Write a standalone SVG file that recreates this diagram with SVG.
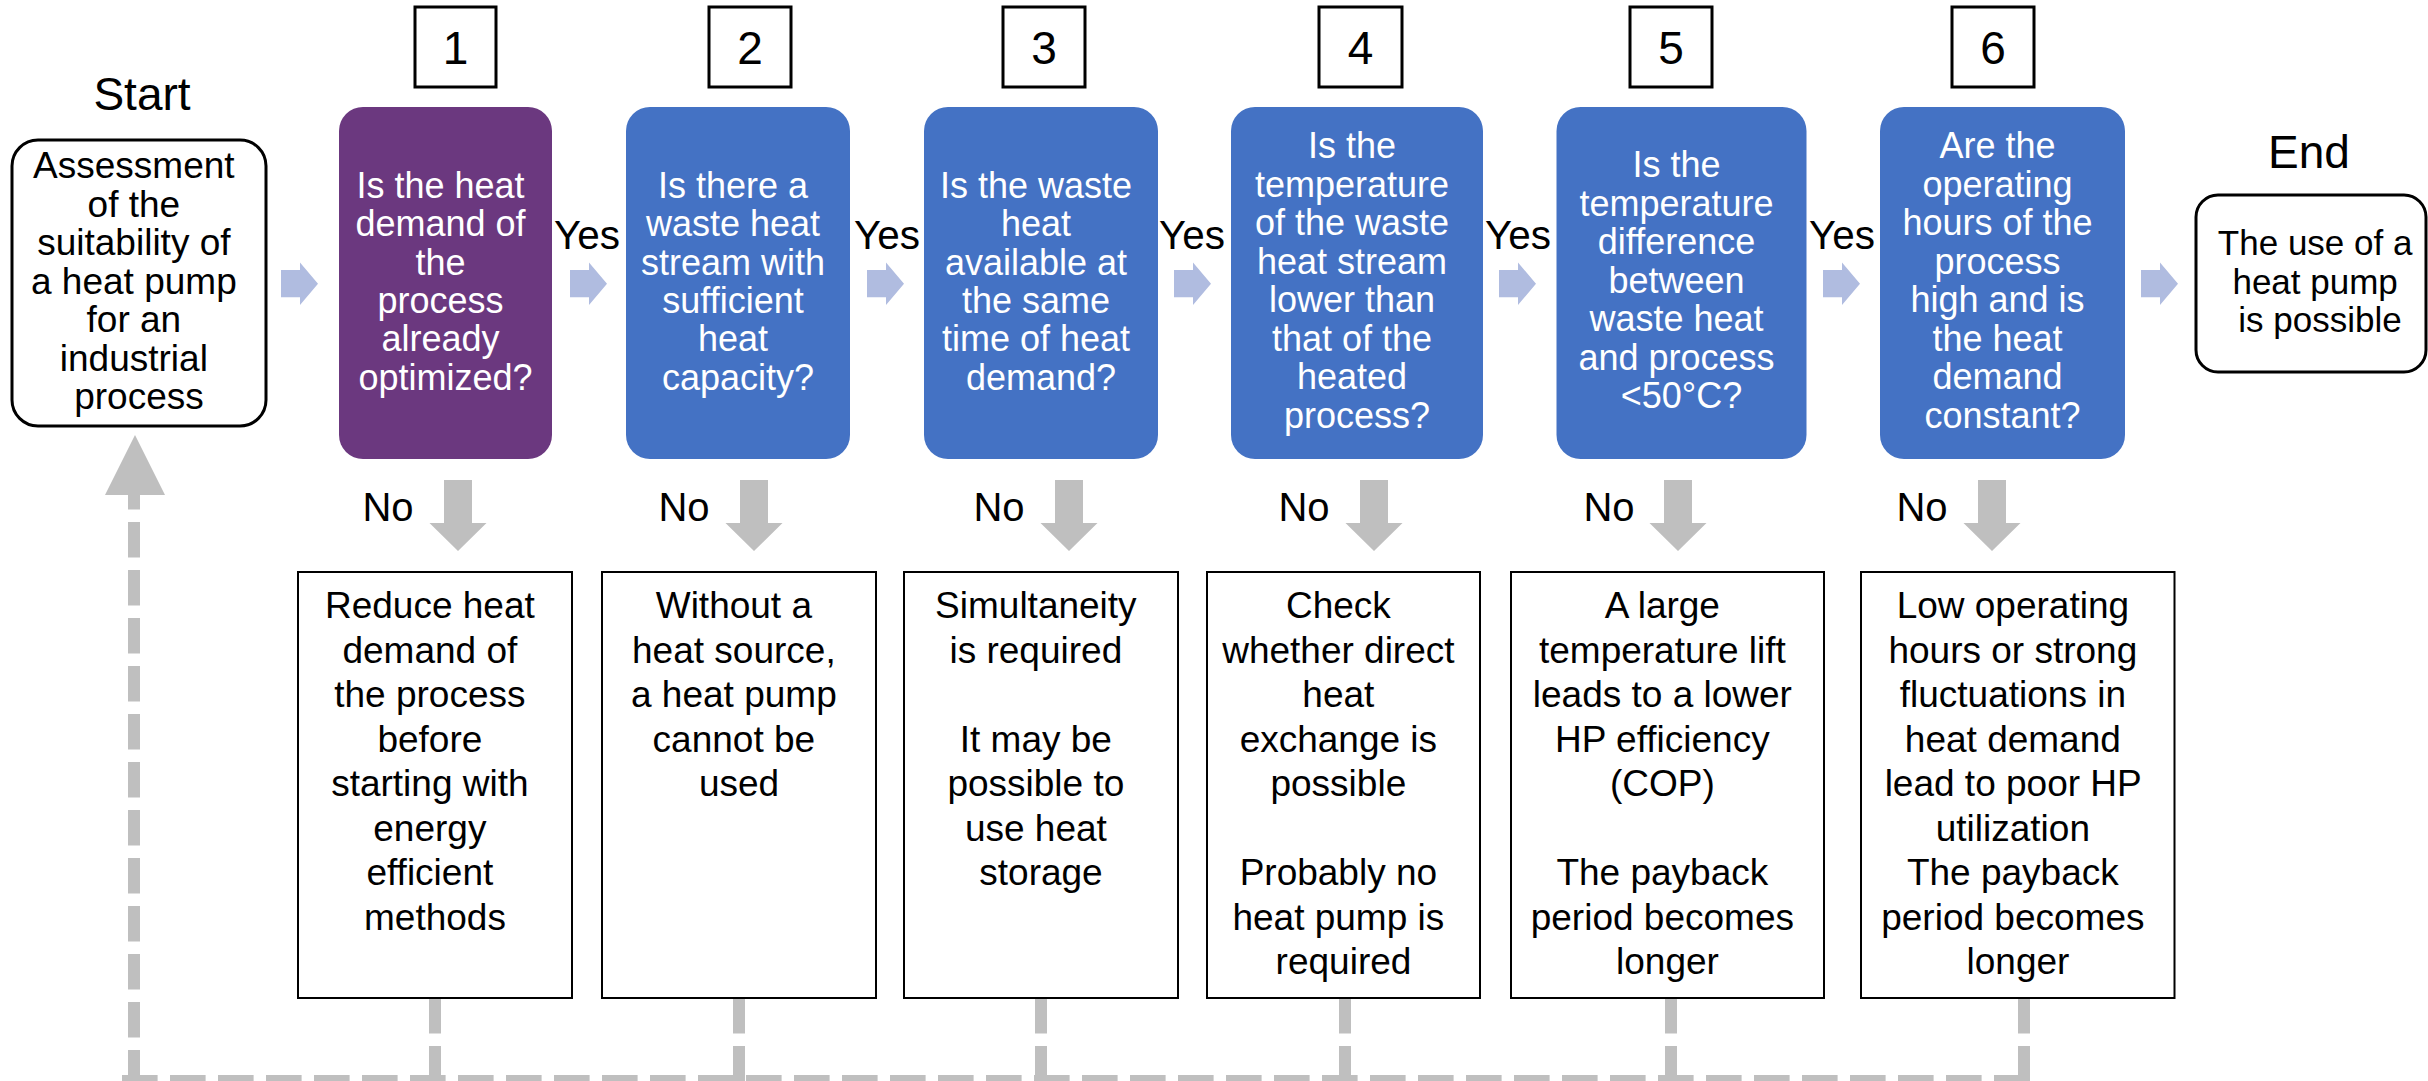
<svg xmlns="http://www.w3.org/2000/svg" xmlns:xlink="http://www.w3.org/1999/xlink" width="2428" height="1081" viewBox="0 0 2428 1081">
  <style>
    text { font-family: "Liberation Sans", Arial, sans-serif; text-anchor: middle; }
    .hdr { font-size: 46px; fill: #000; }
    .num { font-size: 46px; fill: #000; }
    .q { font-size: 36px; fill: #fff; }
    .term { font-size: 37px; fill: #000; }
    .out { font-size: 37px; fill: #000; }
    .yes { font-size: 40px; fill: #000; }
    .no { font-size: 40px; fill: #000; }
    .numbox { fill: #fff; stroke: #000; stroke-width: 3; }
    .termbox { fill: #fff; stroke: #000; stroke-width: 3; }
    .outbox { fill: #fff; stroke: #000; stroke-width: 2; }
    .blue { fill: #4472C4; }
    .purple { fill: #6B387F; }
    .flow { fill: #B0BCE0; }
    .down { fill: #BFBFBF; }
    .loop { fill: none; stroke: #BFBFBF; stroke-width: 12; stroke-dasharray: 35.6 12.4; }
  </style>
  <defs>
    <!-- block arrow pointing right (Yes path) -->
    <path id="ra" d="M0,0 H19 V-7.5 L37,13.7 L19,35 V27.3 H0 Z"/>
    <!-- block arrow pointing down (No path) -->
    <path id="da" d="M-14,0 H14 V43 H28.5 L0,71 L-28.5,43 H-14 Z"/>
  </defs>
  <rect width="2428" height="1081" fill="#fff"/>

  <!-- connectors -->
  <g id="connectors">
    <!-- feedback loop back to the start -->
    <line class="loop" x1="122" y1="1081" x2="2031" y2="1081"/>
    <path class="loop" d="M134,1085.6 V495"/>
    <polygon class="down" points="135,435 105,495 165,495"/>
    <path class="loop" d="M435,998 V1081"/>
    <path class="loop" d="M739,998 V1081"/>
    <path class="loop" d="M1041,998 V1081"/>
    <path class="loop" d="M1345,998 V1081"/>
    <path class="loop" d="M1671,998 V1081"/>
    <path class="loop" d="M2024,998 V1081"/>

    <!-- Yes arrows -->
    <use xlink:href="#ra" href="#ra" class="flow" x="281" y="270"/>
    <use xlink:href="#ra" href="#ra" class="flow" x="570" y="270"/>
    <use xlink:href="#ra" href="#ra" class="flow" x="867" y="270"/>
    <use xlink:href="#ra" href="#ra" class="flow" x="1174" y="270"/>
    <use xlink:href="#ra" href="#ra" class="flow" x="1499" y="270"/>
    <use xlink:href="#ra" href="#ra" class="flow" x="1823" y="270"/>
    <use xlink:href="#ra" href="#ra" class="flow" x="2141" y="270"/>
    <text class="yes" x="587" y="249" textLength="66" lengthAdjust="spacingAndGlyphs">Yes</text>
    <text class="yes" x="887" y="249" textLength="66" lengthAdjust="spacingAndGlyphs">Yes</text>
    <text class="yes" x="1192" y="249" textLength="66" lengthAdjust="spacingAndGlyphs">Yes</text>
    <text class="yes" x="1518" y="249" textLength="66" lengthAdjust="spacingAndGlyphs">Yes</text>
    <text class="yes" x="1842" y="249" textLength="66" lengthAdjust="spacingAndGlyphs">Yes</text>

    <!-- No arrows -->
    <use xlink:href="#da" href="#da" class="down" x="458" y="480"/>
    <use xlink:href="#da" href="#da" class="down" x="754" y="480"/>
    <use xlink:href="#da" href="#da" class="down" x="1069" y="480"/>
    <use xlink:href="#da" href="#da" class="down" x="1374" y="480"/>
    <use xlink:href="#da" href="#da" class="down" x="1678" y="480"/>
    <use xlink:href="#da" href="#da" class="down" x="1992" y="480"/>
    <text class="no" x="388" y="521">No</text>
    <text class="no" x="684" y="521">No</text>
    <text class="no" x="999" y="521">No</text>
    <text class="no" x="1304" y="521">No</text>
    <text class="no" x="1609" y="521">No</text>
    <text class="no" x="1922" y="521">No</text>
  </g>

  <!-- start -->
  <g id="start">
    <text class="hdr" x="142" y="110">Start</text>
    <rect class="termbox" x="12" y="140" width="254" height="286" rx="26"/>
    <text class="term" x="139">
      <tspan x="139" y="178">Assessment</tspan>
      <tspan x="139" y="216.5">of the</tspan>
      <tspan x="139" y="255">suitability of</tspan>
      <tspan x="139" y="293.5">a heat pump</tspan>
      <tspan x="139" y="332">for an</tspan>
      <tspan x="139" y="370.5">industrial</tspan>
      <tspan x="139" y="409">process</tspan>
    </text>
  </g>

  <!-- step 1 -->
  <g id="step1">
    <rect class="numbox" x="415" y="7" width="81" height="80"/>
    <text class="num" x="455.5" y="64">1</text>
    <rect class="purple" x="339" y="107" width="213" height="352" rx="24"/>
    <text class="q">
      <tspan x="445.5" y="197.5">Is the heat</tspan>
      <tspan x="445.5" y="236">demand of</tspan>
      <tspan x="445.5" y="274.5">the</tspan>
      <tspan x="445.5" y="313">process</tspan>
      <tspan x="445.5" y="351">already</tspan>
      <tspan x="445.5" y="389.5">optimized?</tspan>
    </text>
  </g>
  <g id="outcome1">
    <rect class="outbox" x="298" y="572" width="274" height="426"/>
    <text class="out">
      <tspan x="435" y="618">Reduce heat</tspan>
      <tspan x="435" y="662.5">demand of</tspan>
      <tspan x="435" y="707">the process</tspan>
      <tspan x="435" y="751.5">before</tspan>
      <tspan x="435" y="796">starting with</tspan>
      <tspan x="435" y="840.5">energy</tspan>
      <tspan x="435" y="885">efficient</tspan>
      <tspan x="435" y="929.5">methods</tspan>
    </text>
  </g>

  <!-- step 2 -->
  <g id="step2">
    <rect class="numbox" x="709" y="7" width="82" height="80"/>
    <text class="num" x="750" y="64">2</text>
    <rect class="blue" x="626" y="107" width="224" height="352" rx="24"/>
    <text class="q">
      <tspan x="738" y="197.5">Is there a</tspan>
      <tspan x="738" y="236">waste heat</tspan>
      <tspan x="738" y="274.5">stream with</tspan>
      <tspan x="738" y="313">sufficient</tspan>
      <tspan x="738" y="351">heat</tspan>
      <tspan x="738" y="389.5">capacity?</tspan>
    </text>
  </g>
  <g id="outcome2">
    <rect class="outbox" x="602" y="572" width="274" height="426"/>
    <text class="out">
      <tspan x="739" y="618">Without a</tspan>
      <tspan x="739" y="662.5">heat source,</tspan>
      <tspan x="739" y="707">a heat pump</tspan>
      <tspan x="739" y="751.5">cannot be</tspan>
      <tspan x="739" y="796">used</tspan>
    </text>
  </g>

  <!-- step 3 -->
  <g id="step3">
    <rect class="numbox" x="1003" y="7" width="82" height="80"/>
    <text class="num" x="1044" y="64">3</text>
    <rect class="blue" x="924" y="107" width="234" height="352" rx="24"/>
    <text class="q">
      <tspan x="1041" y="197.5">Is the waste</tspan>
      <tspan x="1041" y="236">heat</tspan>
      <tspan x="1041" y="274.5">available at</tspan>
      <tspan x="1041" y="313">the same</tspan>
      <tspan x="1041" y="351">time of heat</tspan>
      <tspan x="1041" y="389.5">demand?</tspan>
    </text>
  </g>
  <g id="outcome3">
    <rect class="outbox" x="904" y="572" width="274" height="426"/>
    <text class="out">
      <tspan x="1041" y="618">Simultaneity</tspan>
      <tspan x="1041" y="662.5">is required</tspan>
      <tspan x="1041" y="751.5">It may be</tspan>
      <tspan x="1041" y="796">possible to</tspan>
      <tspan x="1041" y="840.5">use heat</tspan>
      <tspan x="1041" y="885">storage</tspan>
    </text>
  </g>

  <!-- step 4 -->
  <g id="step4">
    <rect class="numbox" x="1319" y="7" width="83" height="80"/>
    <text class="num" x="1360.5" y="64">4</text>
    <rect class="blue" x="1231" y="107" width="252" height="352" rx="24"/>
    <text class="q">
      <tspan x="1357" y="158">Is the</tspan>
      <tspan x="1357" y="196.5">temperature</tspan>
      <tspan x="1357" y="235">of the waste</tspan>
      <tspan x="1357" y="273.5">heat stream</tspan>
      <tspan x="1357" y="312">lower than</tspan>
      <tspan x="1357" y="350.5">that of the</tspan>
      <tspan x="1357" y="389">heated</tspan>
      <tspan x="1357" y="427.5">process?</tspan>
    </text>
  </g>
  <g id="outcome4">
    <rect class="outbox" x="1207" y="572" width="273" height="426"/>
    <text class="out">
      <tspan x="1343.5" y="618">Check</tspan>
      <tspan x="1343.5" y="662.5">whether direct</tspan>
      <tspan x="1343.5" y="707">heat</tspan>
      <tspan x="1343.5" y="751.5">exchange is</tspan>
      <tspan x="1343.5" y="796">possible</tspan>
      <tspan x="1343.5" y="885">Probably no</tspan>
      <tspan x="1343.5" y="929.5">heat pump is</tspan>
      <tspan x="1343.5" y="974">required</tspan>
    </text>
  </g>

  <!-- step 5 -->
  <g id="step5">
    <rect class="numbox" x="1630" y="7" width="82" height="80"/>
    <text class="num" x="1671" y="64">5</text>
    <rect class="blue" x="1556.5" y="107" width="250" height="352" rx="24"/>
    <text class="q">
      <tspan x="1681.5" y="177">Is the</tspan>
      <tspan x="1681.5" y="215.5">temperature</tspan>
      <tspan x="1681.5" y="254">difference</tspan>
      <tspan x="1681.5" y="292.5">between</tspan>
      <tspan x="1681.5" y="331">waste heat</tspan>
      <tspan x="1681.5" y="369.5">and process</tspan>
      <tspan x="1681.5" y="408">&lt;50°C?</tspan>
    </text>
  </g>
  <g id="outcome5">
    <rect class="outbox" x="1511" y="572" width="313" height="426"/>
    <text class="out">
      <tspan x="1667.5" y="618">A large</tspan>
      <tspan x="1667.5" y="662.5">temperature lift</tspan>
      <tspan x="1667.5" y="707">leads to a lower</tspan>
      <tspan x="1667.5" y="751.5">HP efficiency</tspan>
      <tspan x="1667.5" y="796">(COP)</tspan>
      <tspan x="1667.5" y="885">The payback</tspan>
      <tspan x="1667.5" y="929.5">period becomes</tspan>
      <tspan x="1667.5" y="974">longer</tspan>
    </text>
  </g>

  <!-- step 6 -->
  <g id="step6">
    <rect class="numbox" x="1952" y="7" width="82" height="80"/>
    <text class="num" x="1993" y="64">6</text>
    <rect class="blue" x="1880" y="107" width="245" height="352" rx="24"/>
    <text class="q">
      <tspan x="2002.5" y="158">Are the</tspan>
      <tspan x="2002.5" y="196.5">operating</tspan>
      <tspan x="2002.5" y="235">hours of the</tspan>
      <tspan x="2002.5" y="273.5">process</tspan>
      <tspan x="2002.5" y="312">high and is</tspan>
      <tspan x="2002.5" y="350.5">the heat</tspan>
      <tspan x="2002.5" y="389">demand</tspan>
      <tspan x="2002.5" y="427.5">constant?</tspan>
    </text>
  </g>
  <g id="outcome6">
    <rect class="outbox" x="1861" y="572" width="313.5" height="426"/>
    <text class="out">
      <tspan x="2018" y="618">Low operating</tspan>
      <tspan x="2018" y="662.5">hours or strong</tspan>
      <tspan x="2018" y="707">fluctuations in</tspan>
      <tspan x="2018" y="751.5">heat demand</tspan>
      <tspan x="2018" y="796">lead to poor HP</tspan>
      <tspan x="2018" y="840.5">utilization</tspan>
      <tspan x="2018" y="885">The payback</tspan>
      <tspan x="2018" y="929.5">period becomes</tspan>
      <tspan x="2018" y="974">longer</tspan>
    </text>
  </g>

  <!-- end -->
  <g id="end">
    <text class="hdr" x="2309" y="168">End</text>
    <rect class="termbox" x="2196" y="195" width="230" height="177" rx="22"/>
    <text class="term" style="font-size:35px">
      <tspan x="2320" y="255">The use of a</tspan>
      <tspan x="2320" y="293.5">heat pump</tspan>
      <tspan x="2320" y="332">is possible</tspan>
    </text>
  </g>
</svg>
